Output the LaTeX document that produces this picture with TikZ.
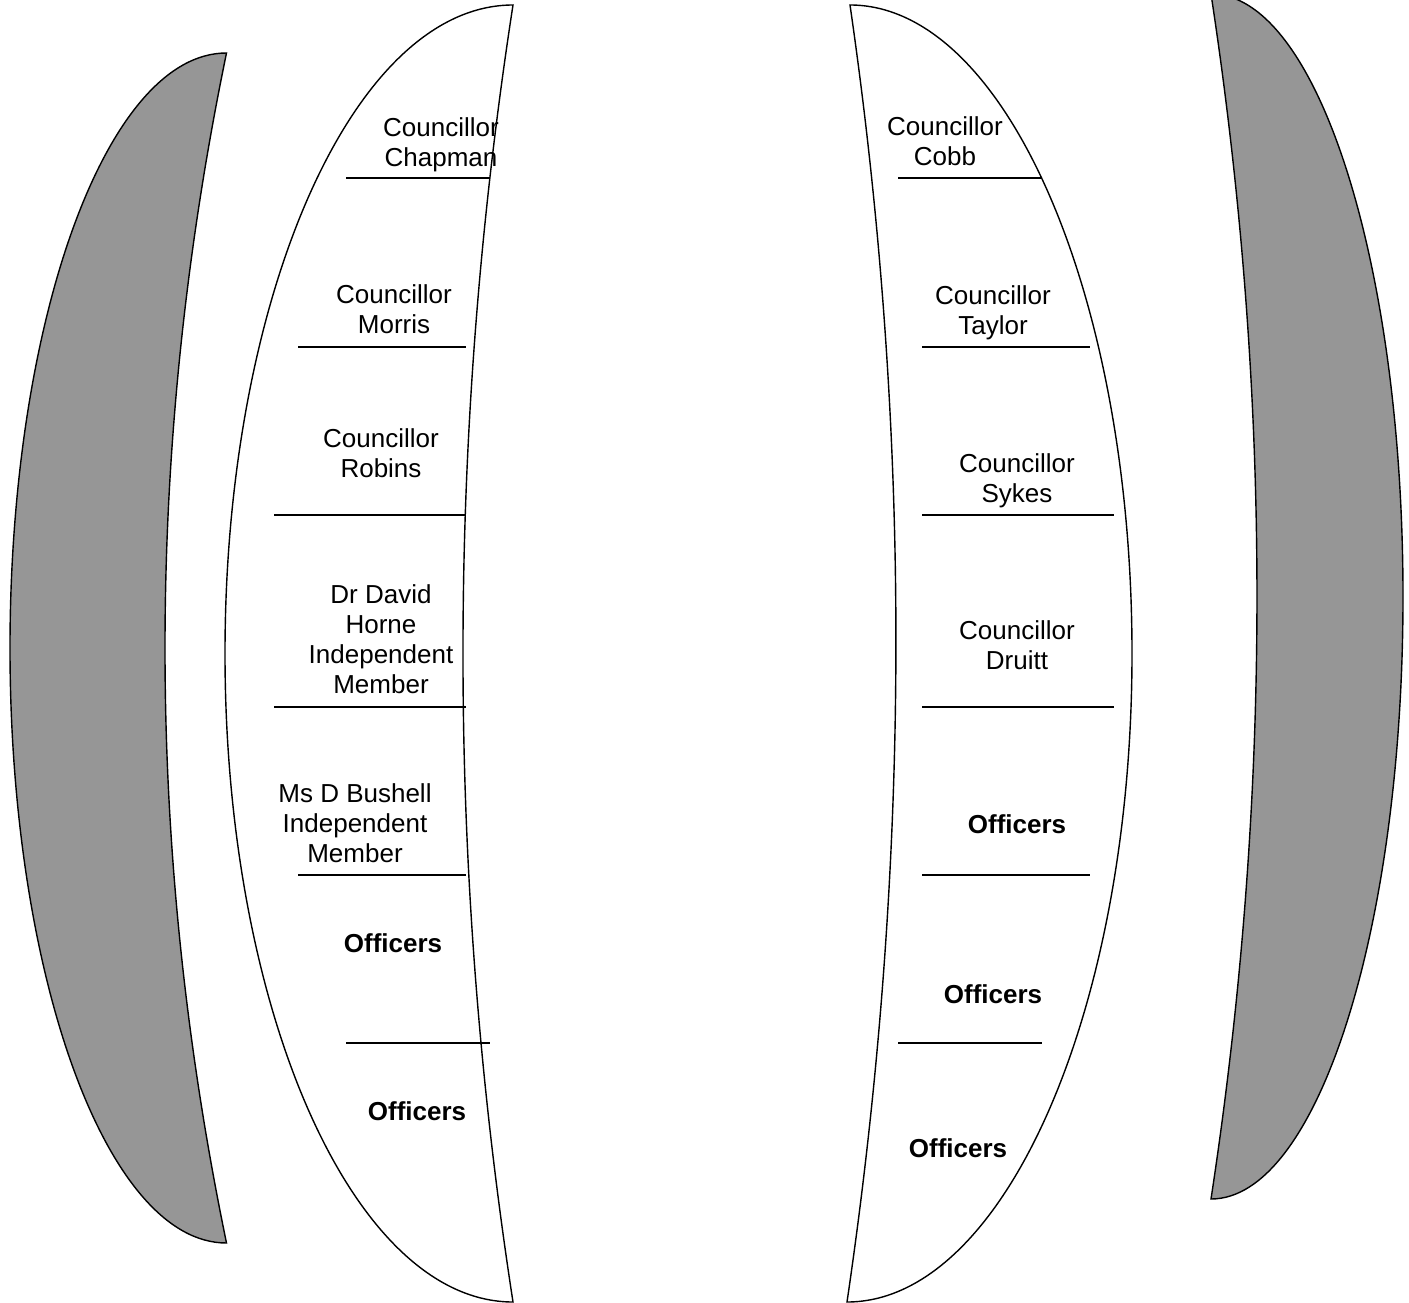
\documentclass[tikz,border=0pt]{standalone}
\usepackage{fontspec}
\setmainfont{Liberation Sans}
\begin{document}
\begin{tikzpicture}[x=1pt,y=-1pt,
  shapeline/.style={draw=black,line width=1.4pt},
  grayshape/.style={shapeline,fill=graycol},
  whiteshape/.style={shapeline,fill=white},
  rule/.style={draw=black,line width=1.5pt},
  label/.style={inner sep=0pt,align=center,font=\fontsize{26}{30}\selectfont},
  boldlabel/.style={label,font=\fontsize{26}{30}\selectfont\bfseries}]
\definecolor{graycol}{RGB}{150,150,150}
\useasboundingbox (0,0) rectangle (1409,1303);
\clip (0,0) rectangle (1409,1303);
% left gray crescent
\path[grayshape] (226.5,53) .. controls (106.9,53) and (10,319.4) .. (10,648)
  .. controls (10,976.6) and (106.9,1243) .. (226.5,1243)
  .. controls (144.5,846.3) and (144.5,449.7) .. (226.5,53) -- cycle;
% left white crescent
\path[whiteshape] (513,5) .. controls (353.9,5) and (225,295.3) .. (225,653.5)
  .. controls (225,1011.7) and (353.9,1302) .. (513,1302)
  .. controls (446.3,869.7) and (446.3,437.3) .. (513,5) -- cycle;
% right white crescent
\path[whiteshape] (850,5) .. controls (1005.3,5) and (1132,295.3) .. (1132,653.5)
  .. controls (1132,1011.7) and (1003.3,1302) .. (847,1302)
  .. controls (910.7,869.7) and (912.7,437.3) .. (850,5) -- cycle;
% right gray crescent
\path[grayshape] (1211,-6) .. controls (1317,-6) and (1403,263.7) .. (1403,596.5)
  .. controls (1403,929.3) and (1317,1199) .. (1211,1199)
  .. controls (1272.3,797.3) and (1272.3,395.7) .. (1211,-6) -- cycle;
% left rules
\coordinate (la1) at (346,178);  \coordinate (lb1) at (490,178);
\coordinate (la2) at (298,347);  \coordinate (lb2) at (466,347);
\coordinate (la3) at (274,515);  \coordinate (lb3) at (466,515);
\coordinate (la4) at (274,707);  \coordinate (lb4) at (466,707);
\coordinate (la5) at (298,875);  \coordinate (lb5) at (466,875);
\coordinate (la6) at (346,1043); \coordinate (lb6) at (490,1043);
\foreach \i in {1,...,6} {\draw[rule] (la\i) -- (lb\i);}
% right rules
\coordinate (ra1) at (898,178);  \coordinate (rb1) at (1042,178);
\coordinate (ra2) at (922,347);  \coordinate (rb2) at (1090,347);
\coordinate (ra3) at (922,515);  \coordinate (rb3) at (1114,515);
\coordinate (ra4) at (922,707);  \coordinate (rb4) at (1114,707);
\coordinate (ra5) at (922,875);  \coordinate (rb5) at (1090,875);
\coordinate (ra6) at (898,1043); \coordinate (rb6) at (1042,1043);
\foreach \i in {1,...,6} {\draw[rule] (ra\i) -- (rb\i);}
% left labels
\node[label] (chapman) at (441,144.4) {Councillor\\Chapman};
\node[label] (morris) at (394,309.7) {Councillor\\Morris};
\node[label] (robins) at (381,453.7) {Councillor\\Robins};
\node[label] (horne) at (381,639.5) {Dr David\\Horne\\Independent\\Member};
\node[label] (bushell) at (355,823) {Ms D Bushell\\Independent\\Member};
\node[boldlabel] (lofficers1) at (393,943) {Officers};
\node[boldlabel] (lofficers2) at (417,1111) {Officers};
% right labels
\node[label] (cobb) at (945,141.7) {Councillor\\Cobb};
\node[label] (taylor) at (993,312.4) {Councillor\\Taylor};
\node[label] (sykes) at (1017,480.4) {Councillor\\Sykes};
\node[label] (druitt) at (1017,645.7) {Councillor\\Druitt};
\node[boldlabel] (rofficers1) at (1017,824) {Officers};
\node[boldlabel] (rofficers2) at (993,994) {Officers};
\node[boldlabel] (rofficers3) at (958,1148) {Officers};
\end{tikzpicture}
\end{document}
